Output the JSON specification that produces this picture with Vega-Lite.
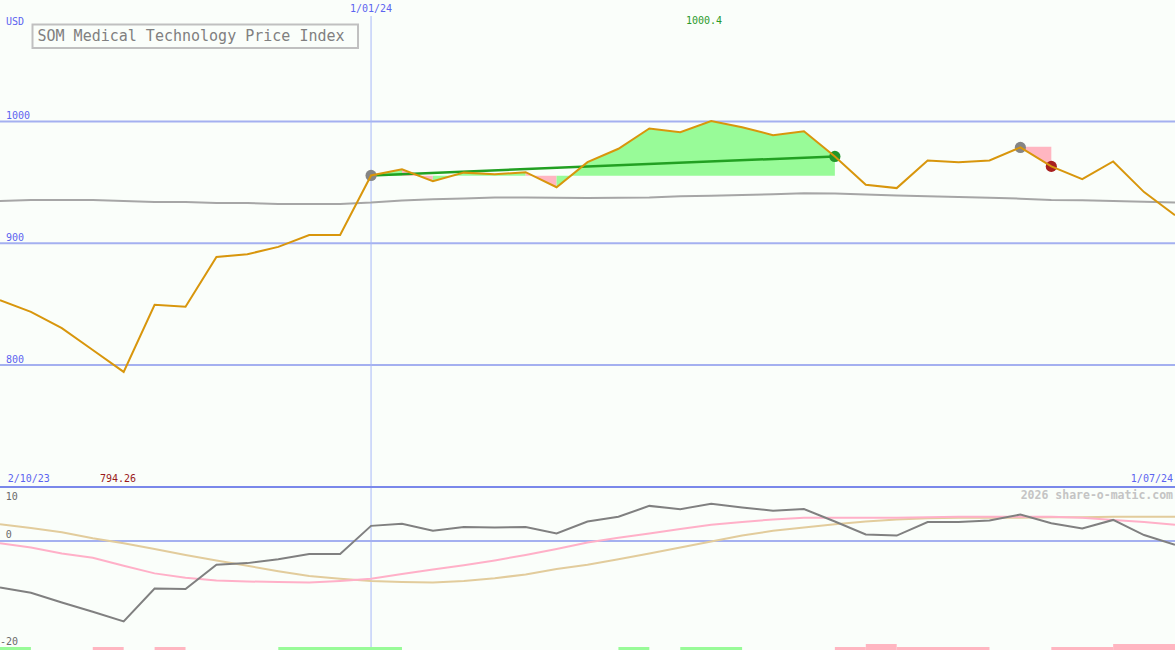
{
  "$schema": "https://vega.github.io/schema/vega-lite/v6.json",
  "width": 1175,
  "height": 650,
  "padding": 0,
  "autosize": {"type": "none"},
  "background": "#fafefa",
  "config": {
    "view": {"stroke": null},
    "axis": {"disable": true},
    "legend": {"disable": true},
    "font": "DejaVu Sans Mono"
  },
  "datasets": {
    "weekly": [
      {"date": "2023-10-09", "price": 853.3, "ma": 934.7, "osc": -8.6, "osc_avg": -0.4, "osc_slow": 3.1},
      {"date": "2023-10-16", "price": 843.7, "ma": 935.5, "osc": -9.6, "osc_avg": -1.2, "osc_slow": 2.4},
      {"date": "2023-10-23", "price": 830.3, "ma": 935.5, "osc": -11.4, "osc_avg": -2.3, "osc_slow": 1.6},
      {"date": "2023-10-30", "price": 812.3, "ma": 935.5, "osc": -13.1, "osc_avg": -3.1, "osc_slow": 0.5},
      {"date": "2023-11-06", "price": 794.3, "ma": 934.7, "osc": -14.9, "osc_avg": -4.6, "osc_slow": -0.4},
      {"date": "2023-11-13", "price": 849.4, "ma": 933.9, "osc": -8.8, "osc_avg": -6.0, "osc_slow": -1.5},
      {"date": "2023-11-20", "price": 847.8, "ma": 933.9, "osc": -8.9, "osc_avg": -6.8, "osc_slow": -2.6},
      {"date": "2023-11-27", "price": 888.8, "ma": 933.0, "osc": -4.4, "osc_avg": -7.3, "osc_slow": -3.6},
      {"date": "2023-12-04", "price": 891.0, "ma": 933.0, "osc": -4.1, "osc_avg": -7.5, "osc_slow": -4.6},
      {"date": "2023-12-11", "price": 897.0, "ma": 932.2, "osc": -3.4, "osc_avg": -7.6, "osc_slow": -5.6},
      {"date": "2023-12-18", "price": 906.8, "ma": 932.2, "osc": -2.4, "osc_avg": -7.7, "osc_slow": -6.5},
      {"date": "2023-12-25", "price": 906.8, "ma": 932.2, "osc": -2.4, "osc_avg": -7.4, "osc_slow": -7.0},
      {"date": "2024-01-01", "price": 955.7, "ma": 933.4, "osc": 2.8, "osc_avg": -7.0, "osc_slow": -7.4},
      {"date": "2024-01-08", "price": 960.7, "ma": 935.2, "osc": 3.2, "osc_avg": -6.1, "osc_slow": -7.6},
      {"date": "2024-01-15", "price": 951.0, "ma": 936.2, "osc": 1.9, "osc_avg": -5.3, "osc_slow": -7.7},
      {"date": "2024-01-22", "price": 958.0, "ma": 936.8, "osc": 2.6, "osc_avg": -4.5, "osc_slow": -7.4},
      {"date": "2024-01-29", "price": 956.6, "ma": 937.5, "osc": 2.5, "osc_avg": -3.6, "osc_slow": -6.9},
      {"date": "2024-02-05", "price": 958.4, "ma": 937.6, "osc": 2.6, "osc_avg": -2.6, "osc_slow": -6.2},
      {"date": "2024-02-12", "price": 946.0, "ma": 937.3, "osc": 1.4, "osc_avg": -1.5, "osc_slow": -5.2},
      {"date": "2024-02-19", "price": 966.6, "ma": 937.2, "osc": 3.6, "osc_avg": -0.3, "osc_slow": -4.4},
      {"date": "2024-02-26", "price": 977.6, "ma": 937.3, "osc": 4.5, "osc_avg": 0.6, "osc_slow": -3.4},
      {"date": "2024-03-04", "price": 994.3, "ma": 937.6, "osc": 6.5, "osc_avg": 1.4, "osc_slow": -2.3},
      {"date": "2024-03-11", "price": 991.2, "ma": 938.6, "osc": 5.9, "osc_avg": 2.2, "osc_slow": -1.2},
      {"date": "2024-03-18", "price": 1000.4, "ma": 939.0, "osc": 6.9, "osc_avg": 3.0, "osc_slow": -0.1},
      {"date": "2024-03-25", "price": 995.3, "ma": 939.7, "osc": 6.2, "osc_avg": 3.5, "osc_slow": 1.0},
      {"date": "2024-04-01", "price": 988.8, "ma": 940.3, "osc": 5.6, "osc_avg": 4.0, "osc_slow": 1.9},
      {"date": "2024-04-08", "price": 992.0, "ma": 941.0, "osc": 5.9, "osc_avg": 4.3, "osc_slow": 2.5},
      {"date": "2024-04-15", "price": 971.3, "ma": 940.8, "osc": 3.6, "osc_avg": 4.3, "osc_slow": 3.1},
      {"date": "2024-04-22", "price": 948.1, "ma": 940.0, "osc": 1.2, "osc_avg": 4.3, "osc_slow": 3.6},
      {"date": "2024-04-29", "price": 945.3, "ma": 939.3, "osc": 1.0, "osc_avg": 4.3, "osc_slow": 4.0},
      {"date": "2024-05-06", "price": 968.0, "ma": 938.7, "osc": 3.5, "osc_avg": 4.4, "osc_slow": 4.2},
      {"date": "2024-05-13", "price": 966.6, "ma": 938.0, "osc": 3.5, "osc_avg": 4.5, "osc_slow": 4.3},
      {"date": "2024-05-20", "price": 968.0, "ma": 937.4, "osc": 3.8, "osc_avg": 4.5, "osc_slow": 4.3},
      {"date": "2024-05-27", "price": 978.7, "ma": 936.6, "osc": 4.9, "osc_avg": 4.5, "osc_slow": 4.3},
      {"date": "2024-06-03", "price": 963.1, "ma": 935.6, "osc": 3.3, "osc_avg": 4.5, "osc_slow": 4.4},
      {"date": "2024-06-10", "price": 952.7, "ma": 935.3, "osc": 2.3, "osc_avg": 4.3, "osc_slow": 4.4},
      {"date": "2024-06-17", "price": 967.2, "ma": 934.8, "osc": 3.9, "osc_avg": 3.9, "osc_slow": 4.5},
      {"date": "2024-06-24", "price": 942.0, "ma": 934.1, "osc": 1.1, "osc_avg": 3.5, "osc_slow": 4.5},
      {"date": "2024-07-01", "price": 923.0, "ma": 933.5, "osc": -0.7, "osc_avg": 3.0, "osc_slow": 4.5}
    ],
    "fills": [
      {"seg": "a", "dir": "up", "date": "2024-01-01", "price": 955.7, "base": 955.5},
      {"seg": "a", "dir": "up", "date": "2024-01-08", "price": 960.7, "base": 955.5},
      {"seg": "b", "dir": "down", "date": "2024-01-08", "price": 960.7, "base": 955.5},
      {"seg": "b", "dir": "down", "date": "2024-01-15", "price": 951.0, "base": 955.5},
      {"seg": "c", "dir": "up", "date": "2024-01-15", "price": 951.0, "base": 955.5},
      {"seg": "c", "dir": "up", "date": "2024-01-22", "price": 958.0, "base": 955.5},
      {"seg": "c", "dir": "up", "date": "2024-01-29", "price": 956.6, "base": 955.5},
      {"seg": "c", "dir": "up", "date": "2024-02-05", "price": 958.4, "base": 955.5},
      {"seg": "d", "dir": "down", "date": "2024-02-05", "price": 958.4, "base": 955.5},
      {"seg": "d", "dir": "down", "date": "2024-02-12", "price": 946.0, "base": 955.5},
      {"seg": "e", "dir": "up", "date": "2024-02-12", "price": 946.0, "base": 955.5},
      {"seg": "e", "dir": "up", "date": "2024-02-19", "price": 966.6, "base": 955.5},
      {"seg": "e", "dir": "up", "date": "2024-02-26", "price": 977.6, "base": 955.5},
      {"seg": "e", "dir": "up", "date": "2024-03-04", "price": 994.3, "base": 955.5},
      {"seg": "e", "dir": "up", "date": "2024-03-11", "price": 991.2, "base": 955.5},
      {"seg": "e", "dir": "up", "date": "2024-03-18", "price": 1000.4, "base": 955.5},
      {"seg": "e", "dir": "up", "date": "2024-03-25", "price": 995.3, "base": 955.5},
      {"seg": "e", "dir": "up", "date": "2024-04-01", "price": 988.8, "base": 955.5},
      {"seg": "e", "dir": "up", "date": "2024-04-08", "price": 992.0, "base": 955.5},
      {"seg": "e", "dir": "up", "date": "2024-04-15", "price": 971.3, "base": 955.5},
      {"seg": "f", "dir": "down", "date": "2024-05-27", "price": 978.7, "base": 979.3},
      {"seg": "f", "dir": "down", "date": "2024-06-03", "price": 963.1, "base": 979.3}
    ],
    "trend": [
      {"date": "2024-01-01", "price": 955.7},
      {"date": "2024-04-15", "price": 971.3}
    ],
    "dots": [
      {"date": "2024-01-01", "price": 955.7, "kind": "start"},
      {"date": "2024-04-15", "price": 971.3, "kind": "gain"},
      {"date": "2024-05-27", "price": 978.7, "kind": "start"},
      {"date": "2024-06-03", "price": 963.1, "kind": "loss"}
    ],
    "grid": [{"level": 800}, {"level": 900}, {"level": 1000}],
    "signals": [
      {"start": "2023-10-09", "end": "2023-10-16", "dir": "up", "strength": 1},
      {"start": "2023-10-30", "end": "2023-11-06", "dir": "down", "strength": 1},
      {"start": "2023-11-13", "end": "2023-11-20", "dir": "down", "strength": 1},
      {"start": "2023-12-11", "end": "2024-01-08", "dir": "up", "strength": 1},
      {"start": "2024-02-26", "end": "2024-03-04", "dir": "up", "strength": 1},
      {"start": "2024-03-11", "end": "2024-03-25", "dir": "up", "strength": 1},
      {"start": "2024-04-15", "end": "2024-04-22", "dir": "down", "strength": 1},
      {"start": "2024-04-22", "end": "2024-04-29", "dir": "down", "strength": 2},
      {"start": "2024-04-29", "end": "2024-05-20", "dir": "down", "strength": 1},
      {"start": "2024-06-03", "end": "2024-06-17", "dir": "down", "strength": 1},
      {"start": "2024-06-17", "end": "2024-07-01", "dir": "down", "strength": 2}
    ]
  },
  "layer": [
    {
      "layer": [
        {
          "data": {"name": "grid"},
          "mark": {"type": "rule", "color": "#a4b0f0", "strokeWidth": 2},
          "encoding": {
            "y": {"field": "level", "type": "quantitative", "scale": {"domain": [565.91, 1099.79], "nice": false, "zero": false}}
          }
        },
        {
          "data": {"name": "grid"},
          "mark": {"type": "text", "align": "left", "baseline": "bottom", "color": "#5c64f0", "fontSize": 10},
          "encoding": {
            "x": {"datum": {"year": 2023, "month": 10, "date": 10, "hours": 8, "minutes": 36, "utc": true}, "type": "temporal"},
            "y": {"field": "level", "type": "quantitative"},
            "text": {"field": "level", "type": "quantitative"}
          }
        },
        {
          "data": {"values": [{}]},
          "mark": {"type": "rule", "color": "#a8b8f8", "strokeWidth": 1},
          "encoding": {
            "x": {"datum": {"year": 2024, "month": 1, "date": 1, "utc": true}, "type": "temporal"},
            "y": {"datum": 1086.65},
            "y2": {"datum": 565.91}
          }
        },
        {
          "data": {"values": [{}]},
          "mark": {"type": "text", "align": "center", "baseline": "middle", "color": "#5c64f0", "fontSize": 10},
          "encoding": {
            "x": {"datum": {"year": 2024, "month": 1, "date": 1, "utc": true}, "type": "temporal"},
            "y": {"datum": 1092.6},
            "text": {"value": "1/01/24"}
          }
        },
        {
          "data": {"values": [{}]},
          "mark": {"type": "text", "align": "left", "baseline": "middle", "color": "#5c64f0", "fontSize": 10},
          "encoding": {
            "x": {"datum": {"year": 2023, "month": 10, "date": 10, "hours": 8, "minutes": 36, "utc": true}, "type": "temporal"},
            "y": {"datum": 1082.1},
            "text": {"value": "USD"}
          }
        },
        {
          "data": {"values": [{}]},
          "mark": {"type": "rect", "fill": "#fafefa", "stroke": "#c0c0c0", "strokeWidth": 2},
          "encoding": {
            "x": {"datum": {"year": 2023, "month": 10, "date": 16, "hours": 8, "minutes": 38, "utc": true}, "type": "temporal"},
            "x2": {"datum": {"year": 2023, "month": 12, "date": 29, "hours": 1, "minutes": 12, "utc": true}},
            "y": {"datum": 1079.67},
            "y2": {"datum": 1060.36}
          }
        },
        {
          "data": {"values": [{}]},
          "mark": {"type": "text", "align": "left", "baseline": "middle", "color": "#808080", "fontSize": 15},
          "encoding": {
            "x": {"datum": {"year": 2023, "month": 10, "date": 17, "hours": 11, "minutes": 45, "utc": true}, "type": "temporal"},
            "y": {"datum": 1070.22},
            "text": {"value": "SOM Medical Technology Price Index"}
          }
        },
        {
          "data": {"values": [{}]},
          "mark": {"type": "text", "align": "center", "baseline": "middle", "color": "#2a9a2a", "fontSize": 10},
          "encoding": {
            "x": {"datum": {"year": 2024, "month": 3, "date": 16, "hours": 8, "minutes": 53, "utc": true}, "type": "temporal"},
            "y": {"datum": 1082.7},
            "text": {"value": "1000.4"}
          }
        },
        {
          "data": {"name": "weekly"},
          "mark": {"type": "line", "color": "#a6a6a6", "strokeWidth": 2, "clip": true},
          "encoding": {
            "x": {"field": "date", "type": "temporal", "scale": {"type": "utc", "nice": false, "domain": [{"year": 2023, "month": 10, "date": 9, "utc": true}, {"year": 2024, "month": 7, "date": 1, "utc": true}]}},
            "y": {"field": "ma", "type": "quantitative"}
          }
        },
        {
          "data": {"name": "fills"},
          "mark": {"type": "area", "clip": true},
          "encoding": {
            "x": {"field": "date", "type": "temporal"},
            "y": {"field": "price", "type": "quantitative"},
            "y2": {"field": "base"},
            "detail": {"field": "seg", "type": "nominal"},
            "color": {"field": "dir", "type": "nominal", "scale": {"domain": ["up", "down"], "range": ["#98fb98", "#ffb6c1"]}}
          }
        },
        {
          "data": {"name": "trend"},
          "mark": {"type": "line", "color": "#22a022", "strokeWidth": 2.5},
          "encoding": {
            "x": {"field": "date", "type": "temporal"},
            "y": {"field": "price", "type": "quantitative"}
          }
        },
        {
          "data": {"name": "dots"},
          "mark": {"type": "point", "filled": true, "opacity": 1, "size": 125},
          "encoding": {
            "x": {"field": "date", "type": "temporal"},
            "y": {"field": "price", "type": "quantitative"},
            "fill": {"field": "kind", "type": "nominal", "scale": {"domain": ["start", "gain", "loss"], "range": ["#858585", "#22962a", "#a82020"]}}
          }
        },
        {
          "data": {"name": "weekly"},
          "mark": {"type": "line", "color": "#d8960c", "strokeWidth": 2, "clip": true},
          "encoding": {
            "x": {"field": "date", "type": "temporal"},
            "y": {"field": "price", "type": "quantitative"}
          }
        }
      ]
    },
    {
      "layer": [
        {
          "data": {"values": [{}]},
          "mark": {"type": "rule", "color": "#a4b0f0", "strokeWidth": 2},
          "encoding": {
            "y": {"datum": 0, "type": "quantitative", "scale": {"domain": [-20.19, 100.19], "nice": false, "zero": false}}
          }
        },
        {
          "data": {"values": [{}]},
          "mark": {"type": "rule", "color": "#7a88ea", "strokeWidth": 2},
          "encoding": {"y": {"datum": 10, "type": "quantitative"}}
        },
        {
          "data": {"values": [{}]},
          "mark": {"type": "text", "align": "left", "baseline": "middle", "color": "#5c64f0", "fontSize": 10},
          "encoding": {
            "x": {"datum": {"year": 2023, "month": 10, "date": 10, "hours": 17, "minutes": 50, "utc": true}, "type": "temporal"},
            "y": {"datum": 11.48},
            "text": {"value": "2/10/23"}
          }
        },
        {
          "data": {"values": [{}]},
          "mark": {"type": "text", "align": "left", "baseline": "middle", "color": "#9a1a1a", "fontSize": 10},
          "encoding": {
            "x": {"datum": {"year": 2023, "month": 10, "date": 31, "hours": 15, "minutes": 20, "utc": true}, "type": "temporal"},
            "y": {"datum": 11.48},
            "text": {"value": "794.26"}
          }
        },
        {
          "data": {"values": [{}]},
          "mark": {"type": "text", "align": "right", "baseline": "middle", "color": "#5c64f0", "fontSize": 10},
          "encoding": {
            "x": {"datum": {"year": 2024, "month": 6, "date": 30, "hours": 13, "minutes": 10, "utc": true}, "type": "temporal"},
            "y": {"datum": 11.48},
            "text": {"value": "1/07/24"}
          }
        },
        {
          "data": {"values": [{}]},
          "mark": {"type": "text", "align": "right", "baseline": "middle", "color": "#c4c4c4", "fontSize": 11.5, "fontWeight": "bold"},
          "encoding": {
            "x": {"datum": {"year": 2024, "month": 6, "date": 30, "hours": 13, "minutes": 10, "utc": true}, "type": "temporal"},
            "y": {"datum": 8.33},
            "text": {"value": "2026 share-o-matic.com"}
          }
        },
        {
          "data": {"values": [{}]},
          "mark": {"type": "text", "align": "left", "baseline": "middle", "color": "#6a6a6a", "fontSize": 10},
          "encoding": {
            "x": {"datum": {"year": 2023, "month": 10, "date": 10, "hours": 7, "utc": true}, "type": "temporal"},
            "y": {"datum": 8.15},
            "text": {"value": "10"}
          }
        },
        {
          "data": {"values": [{}]},
          "mark": {"type": "text", "align": "left", "baseline": "middle", "color": "#6a6a6a", "fontSize": 10},
          "encoding": {
            "x": {"datum": {"year": 2023, "month": 10, "date": 10, "hours": 7, "utc": true}, "type": "temporal"},
            "y": {"datum": 1.17},
            "text": {"value": "0"}
          }
        },
        {
          "data": {"values": [{}]},
          "mark": {"type": "text", "align": "left", "baseline": "middle", "color": "#6a6a6a", "fontSize": 10},
          "encoding": {
            "x": {"datum": {"year": 2023, "month": 10, "date": 9, "utc": true}, "type": "temporal"},
            "y": {"datum": -18.7},
            "text": {"value": "-20"}
          }
        },
        {
          "data": {"name": "weekly"},
          "mark": {"type": "line", "color": "#e2cc9c", "strokeWidth": 2, "clip": true},
          "encoding": {
            "x": {"field": "date", "type": "temporal"},
            "y": {"field": "osc_slow", "type": "quantitative"}
          }
        },
        {
          "data": {"name": "weekly"},
          "mark": {"type": "line", "color": "#ffb0c8", "strokeWidth": 2, "clip": true},
          "encoding": {
            "x": {"field": "date", "type": "temporal"},
            "y": {"field": "osc_avg", "type": "quantitative"}
          }
        },
        {
          "data": {"name": "weekly"},
          "mark": {"type": "line", "color": "#808080", "strokeWidth": 2, "clip": true},
          "encoding": {
            "x": {"field": "date", "type": "temporal"},
            "y": {"field": "osc", "type": "quantitative"}
          }
        }
      ]
    },
    {
      "data": {"name": "signals"},
      "mark": {"type": "rect"},
      "encoding": {
        "x": {"field": "start", "type": "temporal"},
        "x2": {"field": "end"},
        "y": {"field": "strength", "type": "quantitative", "scale": {"domain": [0, 216.67], "nice": false, "zero": false}},
        "y2": {"datum": 0},
        "color": {"field": "dir", "type": "nominal"}
      }
    }
  ],
  "resolve": {"scale": {"y": "independent"}}
}
